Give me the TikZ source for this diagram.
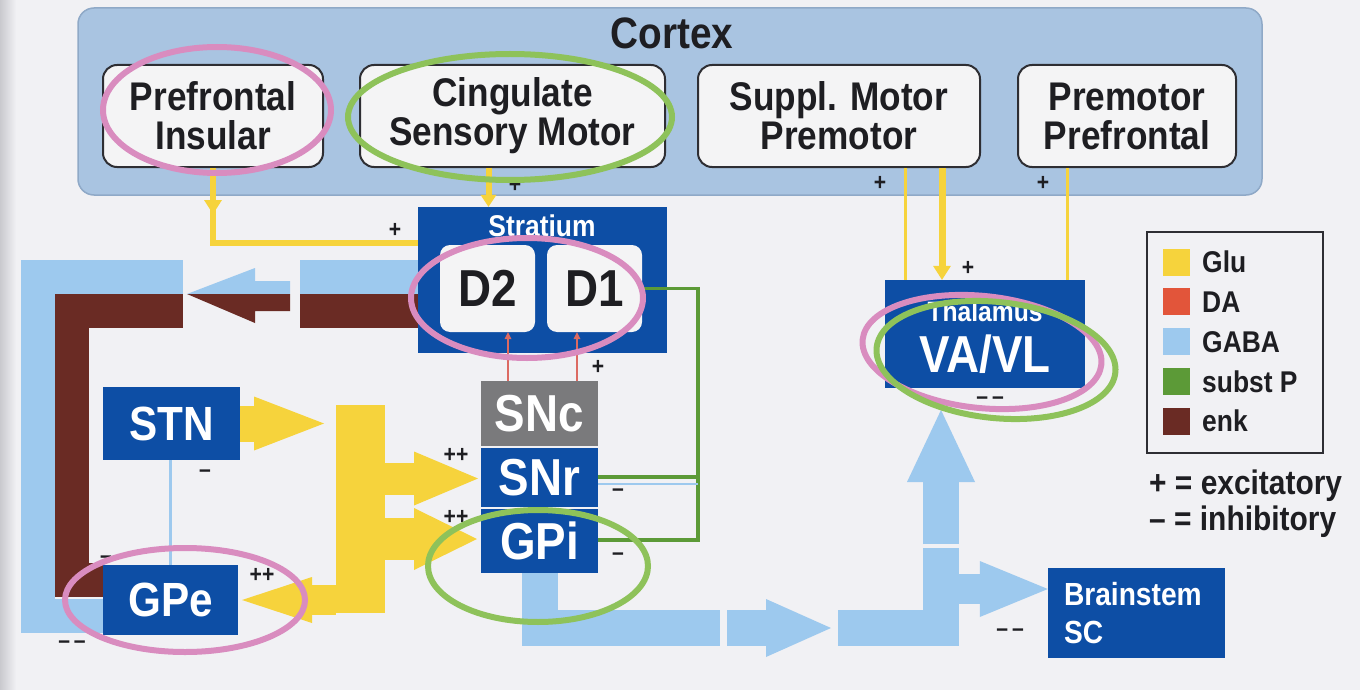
\documentclass[tikz,border=0pt]{standalone}
\usepackage{fontspec}
\setmainfont[FakeStretch=0.88]{Liberation Sans}
\usetikzlibrary{arrows.meta}

\definecolor{bg}{HTML}{F1F1F4}
\definecolor{scanedge}{HTML}{C9C9CE}
\definecolor{panelfill}{HTML}{A9C4E1}
\definecolor{paneledge}{HTML}{8FA9C7}
\definecolor{boxfill}{HTML}{F4F4F5}
\definecolor{boxedge}{HTML}{2E2E33}
\definecolor{textdark}{HTML}{1E1E22}
\definecolor{nucblue}{HTML}{0D4EA5}
\definecolor{sncgray}{HTML}{7A7A7C}
\definecolor{glu}{HTML}{F6D33C}
\definecolor{da}{HTML}{E2553A}
\definecolor{daline}{HTML}{DC6A62}
\definecolor{gaba}{HTML}{9DC9EE}
\definecolor{substp}{HTML}{5C9A37}
\definecolor{enk}{HTML}{6A2B24}
\definecolor{ringpink}{HTML}{D98CBF}
\definecolor{ringgreen}{HTML}{8EC25A}

\tikzset{
  panel/.style={draw=paneledge, line width=1.5pt, fill=panelfill, rounded corners=16pt},
  ctxbox/.style={draw=boxedge, line width=2pt, fill=boxfill, rounded corners=14pt,
    inner sep=0pt, align=center, text=textdark, font=\fontsize{40}{39}\selectfont\bfseries},
  dbox/.style={fill=boxfill, rounded corners=10pt, inner sep=0pt, text=textdark,
    minimum width=95pt, minimum height=87pt, font=\fontsize{52}{52}\selectfont\bfseries},
  nuc/.style={fill=nucblue, text=white, inner sep=0pt, font=\fontsize{52}{52}\selectfont\bfseries},
  smallnuc/.style={fill=nucblue, text=white, inner sep=0pt, font=\fontsize{48}{48}\selectfont\bfseries},
  sign/.style={inner sep=0pt, text=textdark, font=\fontsize{24}{24}\selectfont\bfseries},
  legtext/.style={anchor=base west, inner sep=0pt, text=textdark, font=\fontsize{30}{30}\selectfont\bfseries},
  gluline/.style={draw=glu, line width=#1},
  gabaline/.style={draw=gaba, line width=#1},
  enkline/.style={draw=enk, line width=#1},
  head/.style 2 args={-{Triangle[length=#1,width=#2,line width=0pt]}},
  ring/.style={draw=#1, line width=6pt},
}

\begin{document}
\begin{tikzpicture}[x=1pt,y=-1pt,line join=miter]
\useasboundingbox (0,0) rectangle (1360,690);
\fill[bg] (0,0) rectangle (1360,690);
\shade[left color=scanedge, right color=bg] (0,0) rectangle (16,690);

% cortex
\node[panel, minimum width=1184pt, minimum height=187pt] (cortex) at (670,101.5) {};
\node[inner sep=0pt, text=textdark, font=\fontsize{44}{44}\selectfont\bfseries] (cortextitle) at (672,33) {Cortex};
\node[ctxbox, minimum width=220pt, minimum height=102pt] (pfc) at (213,116) {Prefrontal\\Insular};
\node[ctxbox, minimum width=305pt, minimum height=102pt] (cing) at (512.5,116) {Cingulate\\Sensory Motor};
\node[ctxbox, minimum width=282pt, minimum height=102pt] (sma) at (839,116) {Suppl. Motor\\Premotor};
\node[ctxbox, minimum width=218pt, minimum height=102pt] (pmc) at (1127,116) {Premotor\\Prefrontal};

% basal ganglia
\node[nuc, minimum width=249pt, minimum height=146pt] (stratium) at (542.5,280) {};
\node[text=white, inner sep=0pt, font=\fontsize{30}{30}\selectfont\bfseries] (strattitle) at (542,226) {Stratium};
\node[dbox] (d2) at (487.5,288.5) {D2};
\node[dbox] (d1) at (594.5,288.5) {D1};
\node[nuc, fill=sncgray, minimum width=117pt, minimum height=65pt] (snc) at (539.5,413.5) {SNc};
\node[nuc, minimum width=117pt, minimum height=59pt] (snr) at (539.5,477.5) {SNr};
\node[nuc, minimum width=117pt, minimum height=64pt] (gpi) at (539.5,541) {GPi};
\node[smallnuc, minimum width=137pt, minimum height=73pt] (stn) at (171.5,423.5) {STN};
\node[smallnuc, minimum width=135pt, minimum height=70pt] (gpe) at (170.5,600) {GPe};
\node[fill=glu, inner sep=0pt, minimum width=49pt, minimum height=208pt] (glubar) at (360.5,509) {};

% thalamus, brainstem
\node[nuc, minimum width=200pt, minimum height=108pt] (thal) at (985,334) {};
\node[text=white, inner sep=0pt, font=\fontsize{28}{28}\selectfont\bfseries] (thaltitle) at (985,311) {Thalamus};
\node[text=white, inner sep=0pt, font=\fontsize{52}{52}\selectfont\bfseries] (vavl) at (985,354) {VA/VL};
\node[fill=nucblue, text=white, inner xsep=16pt, inner ysep=0pt, text width=145pt, minimum height=90pt,
  align=left, font=\fontsize{32}{38}\selectfont\bfseries] (brainstem) at (1136.5,613) {Brainstem\\SC};

\coordinate (gabacut) at (183,277);
\coordinate (enkcut) at (183,311);
\coordinate (cingout) at ([xshift=-24pt]cing.south);
\coordinate (smaout1) at ([xshift=66pt]sma.south);
\coordinate (smaout2) at ([xshift=103pt]sma.south);
\coordinate (pmcout) at ([xshift=-60pt]pmc.south);
\coordinate (snca) at ([xshift=-31.5pt]snc.north);
\coordinate (sncb) at ([xshift=37.5pt]snc.north);
\coordinate (spbend) at (698,477);
\coordinate (stntip) at (324,423.5);
\coordinate (snrtip) at (478,478.5);
\coordinate (gpitip) at (477,539);
\coordinate (gpetip) at (242,600);
\coordinate (gabamid) at (941,628);

% enk / GABA loop to GPe
\draw[gabaline=34pt] (gpe.west |- 0,616) -- (38,616) -- (38,277) -- (gabacut);
\draw[enkline=34pt] (gpe.west |- 0,580) -- (72,580) -- (72,311) -- (enkcut);
\draw[gabaline=34pt] (stratium.west |- 0,277) -- (300,277);
\draw[enkline=34pt] (stratium.west |- 0,311) -- (300,311);
\fill[gaba] (187,294) -- (255,268) -- (255,281) -- (290,281) -- (290,294) -- cycle;
\fill[enk] (187,294) -- (255,323) -- (255,311) -- (290,311) -- (290,294) -- cycle;
\draw[gabaline=2.5pt] (gpe.north) -- (gpe.north |- stn.south);

% glutamate from cortex
\draw[gluline=6pt] (pfc.south) -- (pfc.south |- 0,243) -- (stratium.west |- 0,243);
\draw[gluline=6pt, head={14pt}{18pt}] (pfc.south) -- ++(0,46);
\draw[gluline=6pt, head={12pt}{16pt}] (cingout) -- (cingout |- stratium.north);
\draw[gluline=3pt] (smaout1) -- (smaout1 |- thal.north);
\draw[gluline=7pt, head={14pt}{18pt}] (smaout2) -- (smaout2 |- thal.north);
\draw[gluline=3pt] (pmcout) -- (pmcout |- thal.north);

% dopamine and substance P
\draw[draw=daline, line width=2.5pt, head={7pt}{7pt}] (snca) -- (snca |- d2.south);
\draw[draw=daline, line width=2.5pt, head={7pt}{7pt}] (sncb) -- (sncb |- d1.south);
\draw[draw=substp, line width=3.5pt] (d1.east) -- (698,288.5) -- (spbend) -- (snr.east |- spbend);
\draw[draw=substp, line width=3.5pt] (spbend) -- (698,540) -- (gpi.east |- 0,540);
\draw[gabaline=2.5pt] (snr.east |- 0,484) -- (698,484);

% STN glutamate
\draw[gluline=36pt, head={70pt}{54pt}] (stn.east) -- (stntip);
\draw[gluline=32pt, head={64pt}{54pt}] (glubar.east |- snrtip) -- (snrtip);
\draw[gluline=42pt, head={63pt}{62pt}] (glubar.east |- gpitip) -- (gpitip);
\draw[gluline=30pt, head={70pt}{46pt}] (glubar.west |- gpetip) -- (gpetip);

% GABA output
\draw[gabaline=36pt] (gpi.south) -- (gpi.south |- 0,628) -- (720,628);
\draw[gabaline=36pt, head={65pt}{58pt}] (727,628) -- (831,628);
\draw[gabaline=36pt] (838,628) -- (gabamid) -- (941,548);
\draw[gabaline=36pt, head={72pt}{68pt}] (941,544) -- (941,410);
\draw[gabaline=30pt, head={68pt}{56pt}] (941,589) -- (brainstem.west |- 0,589);

% legend
\node[draw=boxedge, line width=2.5pt, minimum width=176pt, minimum height=221pt] (legend) at (1235,342.5) {};
\foreach \c/\t [count=\i] in {glu/Glu, da/DA, gaba/GABA, substp/subst P, enk/enk} {
  \node[fill=\c, inner sep=0pt, minimum size=27pt] (sw\i) at (1176.5, 222.25+39.75*\i) {};
  \node[legtext] (lt\i) at (1202, 233+39.75*\i) {\t};
}
\node[legtext, font=\fontsize{34}{34}\selectfont\bfseries] (excit) at (1149,494) {+ = excitatory};
\node[legtext, font=\fontsize{34}{34}\selectfont\bfseries] (inhib) at (1149,530) {-- = inhibitory};

% signs
\foreach \p/\s [count=\i] in {{395,230}/+, {515,185}/+, {880,183}/+, {1043,183}/+, {968,268}/+,
    {598,367}/+, {456,455}/++, {456,517}/++, {618,493}/--, {618,557}/--, {205,474}/--,
    {262,575}/++, {106,560}/--, {72,645}/--\,--, {990,401}/--\,--, {1010,633}/--\,--}
  \node[sign] (sg\i) at (\p) {\s};

% highlight rings
\draw[ring=ringpink] (217,110) ellipse [x radius=114, y radius=63];
\draw[ring=ringgreen] (510,117) ellipse [x radius=162, y radius=63];
\draw[ring=ringpink] (527,298) ellipse [x radius=116, y radius=60];
\draw[ring=ringgreen] (538,566) ellipse [x radius=110, y radius=56];
\draw[ring=ringpink] (185,600) ellipse [x radius=120, y radius=52];
\draw[ring=ringpink, rotate around={-6:(982,352)}] (982,352) ellipse [x radius=120, y radius=56];
\draw[ring=ringgreen, rotate around={-6:(996,360)}] (996,360) ellipse [x radius=120, y radius=58];
\end{tikzpicture}
\end{document}
